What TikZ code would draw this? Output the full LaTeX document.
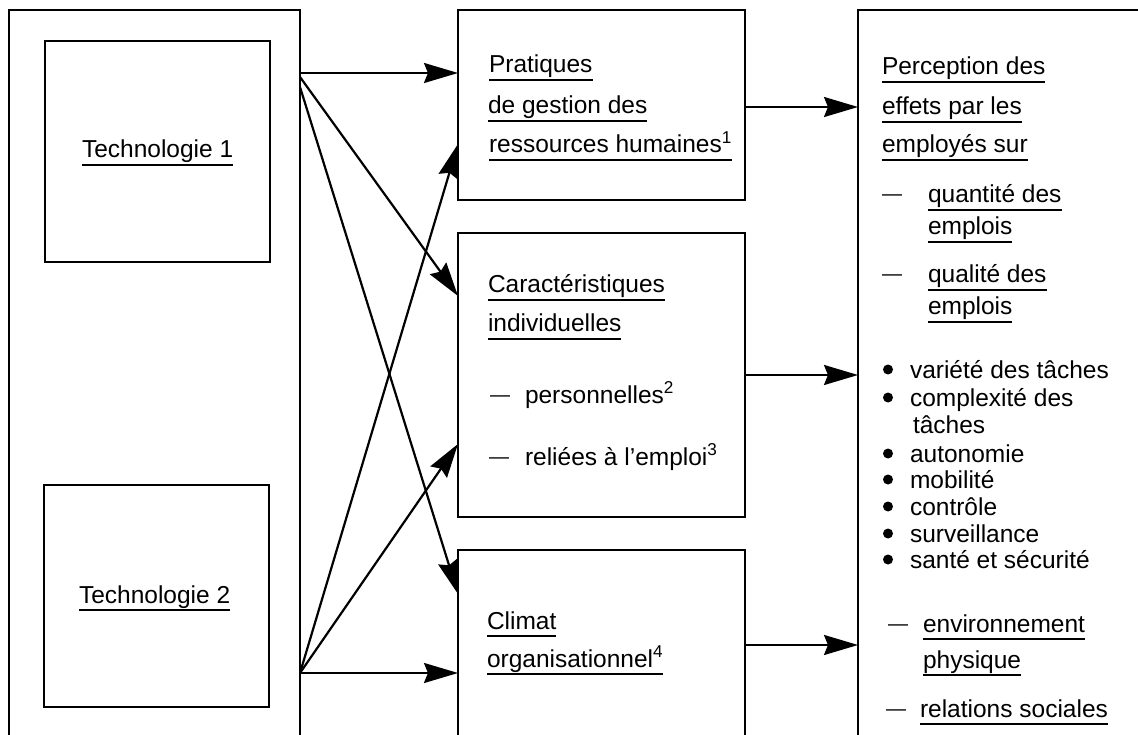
\documentclass[tikz,border=0pt]{standalone}
\usepackage{fontspec}
\setmainfont{Liberation Sans}
\usetikzlibrary{arrows.meta,calc}
\tikzset{
  box/.style={draw, line width=2.4pt, outer sep=0pt, inner sep=0pt, anchor=north west},
  txt/.style={anchor=base west, inner sep=0pt, outer sep=0pt, font=\fontsize{24.5}{28}\selectfont},
  dashtxt/.style={txt, font=\fontsize{20}{24}\selectfont},
  ul/.style={line width=1.4pt},
  arr/.style={line width=2.2pt, -{Stealth[length=34pt,width=20pt,inset=4pt]}},
}
\newcommand\ulnode[3]{\node[txt] (#1) at (#2) {#3};
  \draw[ul] ([yshift=-7pt]#1.base west) -- ([yshift=-7pt]#1.base east);}
\newcommand\bulletnode[3]{\node[txt] (#1) at (#2) {#3};
  \fill ([xshift=-22pt,yshift=8.5pt]#1.base west) circle (5pt);}
\begin{document}
\begin{tikzpicture}[x=1pt,y=-1pt]
\path[use as bounding box, clip] (0,0) rectangle (1138,735);
\fill[white] (0,0) rectangle (1138,735);
% boxes
\node[box, minimum width=291pt, minimum height=800pt] (outer) at (9,10) {};
\node[box, minimum width=225pt, minimum height=221pt] (t1box) at (45,41) {};
\node[box, minimum width=225pt, minimum height=222pt] (t2box) at (44,485) {};
\node[box, minimum width=287pt, minimum height=190pt] (prat) at (458,10) {};
\node[box, minimum width=287pt, minimum height=284pt] (caract) at (458,233) {};
\node[box, minimum width=287pt, minimum height=300pt] (climat) at (458,550) {};
\node[box, minimum width=400pt, minimum height=800pt] (percep) at (858,10) {};
% left texts
\ulnode{tech1}{82,158}{Technologie 1}
\ulnode{tech2}{79,603}{Technologie 2}
% middle texts
\ulnode{p1}{489,73}{Pratiques}
\ulnode{p2}{488,114}{de gestion des}
\ulnode{p3}{489,153}{ressources humaines\textsuperscript{1}}
\ulnode{c1}{488,293}{Caractéristiques}
\ulnode{c2}{488,332}{individuelles}
\node[dashtxt] (cd1) at (490,401) {—};
\node[txt] (c3) at (525,403) {personnelles\textsuperscript{2}};
\node[dashtxt] (cd2) at (489,463) {—};
\node[txt] (c4) at (525,465) {reliées à l’emploi\textsuperscript{3}};
\ulnode{cl1}{487,629}{Climat}
\ulnode{cl2}{487,667}{organisationnel\textsuperscript{4}}
% right texts
\ulnode{r1}{882,75}{Perception des}
\ulnode{r2}{882,115}{effets par les}
\ulnode{r3}{882,153}{employés sur}
\node[dashtxt] (rd1) at (882,201) {—};
\ulnode{r4}{928,203}{quantité des}
\ulnode{r5}{928,235}{emplois}
\node[dashtxt] (rd2) at (882,281) {—};
\ulnode{r6}{928,283}{qualité des}
\ulnode{r7}{928,315}{emplois}
\bulletnode{b1}{910,378}{variété des tâches}
\bulletnode{b2}{910,406}{complexité des}
\node[txt] (b2b) at (913,433) {tâches};
\bulletnode{b3}{910,462}{autonomie}
\bulletnode{b4}{910,488}{mobilité}
\bulletnode{b5}{910,515}{contrôle}
\bulletnode{b6}{910,542}{surveillance}
\bulletnode{b7}{910,568}{santé et sécurité}
\node[dashtxt] (rd3) at (888,630) {—};
\ulnode{r8}{923,632}{environnement}
\ulnode{r9}{923,668}{physique}
\node[dashtxt] (rd4) at (886,715) {—};
\ulnode{r10}{920,717}{relations sociales}
% connectors
\coordinate (s1) at (outer.east |- 0,73);
\coordinate (s2) at (outer.east |- 0,77);
\coordinate (s3) at (outer.east |- 0,87);
\coordinate (s4) at (outer.east |- 0,673);
\draw[arr] (s1) -- (prat.west |- s1);
\draw[arr] (s2) -- (caract.west |- 0,296);
\draw[arr] (s3) -- (climat.west |- 0,594);
\draw[arr] (s4) -- (climat.west |- s4);
\draw[arr] (s4) -- (caract.west |- 0,444);
\draw[arr] (s4) -- (prat.west |- 0,144);
\draw[arr] (prat.east |- 0,107) -- (percep.west |- 0,107);
\draw[arr] (caract.east |- 0,375) -- (percep.west |- 0,375);
\draw[arr] (climat.east |- 0,645) -- (percep.west |- 0,645);
\end{tikzpicture}
\end{document}
